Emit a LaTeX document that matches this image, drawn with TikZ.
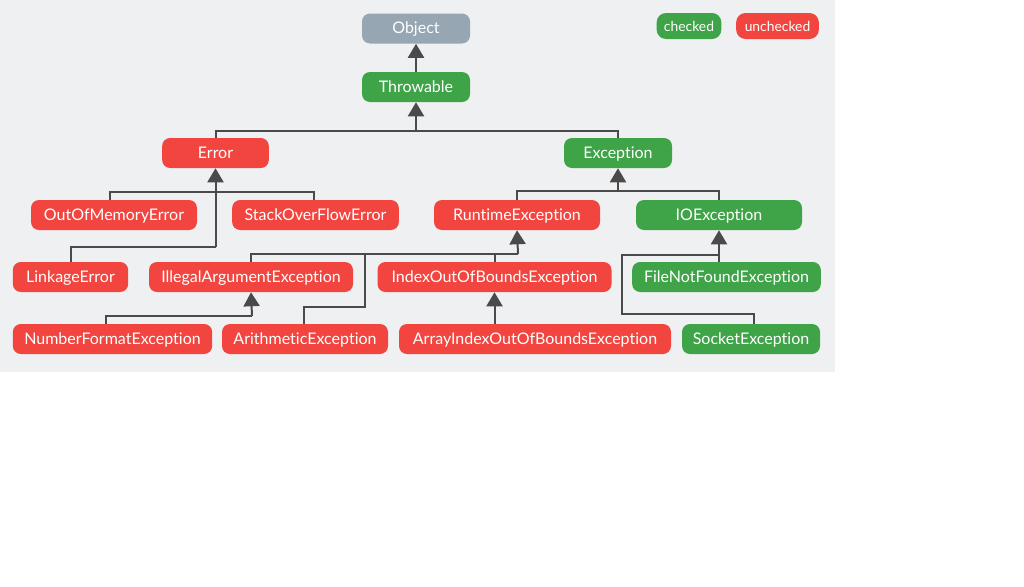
\documentclass[tikz,border=0pt]{standalone}
\usepackage{fontspec}
\setmainfont[Ligatures={NoCommon}]{Lato}
\usetikzlibrary{arrows.meta,calc}
\definecolor{bgpanel}{HTML}{EEF0F2}
\definecolor{unchk}{HTML}{F2453F}
\definecolor{chk}{HTML}{3FA348}
\definecolor{rootgrey}{HTML}{96A6B2}
\definecolor{wire}{HTML}{4A4A4A}
\begin{document}
\begin{tikzpicture}[x=0.75pt,y=-0.75pt,
  cls/.style={rounded corners=6pt,minimum height=22.5pt,inner sep=0pt,
    text height=8.8pt,text depth=1.3pt,
    text=white,font=\fontsize{12pt}{14pt}\selectfont},
  uc/.style={cls,fill=unchk},
  ck/.style={cls,fill=chk},
  rt/.style={cls,fill=rootgrey},
  legend/.style={rounded corners=7pt,minimum height=19.5pt,inner sep=0pt,
    text height=8.2pt,text depth=0pt,
    text=white,font=\fontsize{10.4pt}{12pt}\selectfont},
  conn/.style={draw=wire,line width=1.5pt},
  arr/.style={conn,-{Triangle[length=10.5pt,width=12pt]}}]
\useasboundingbox (0,0) rectangle (1024,586);
\fill[bgpanel] (0,0) rectangle (835,372);

% legend
\node[legend,fill=chk,minimum width=48.5pt] (lchk) at (689,26) {checked};
\node[legend,fill=unchk,minimum width=62pt] (lunchk) at (777.5,26) {unchecked};

% class boxes
\node[rt,minimum width=81pt]  (object)    at (416,28.5) {Object};
\node[ck,minimum width=81pt]  (throwable) at (416,87)   {Throwable};
\node[uc,minimum width=80pt]  (error)     at (215.5,153){Error};
\node[ck,minimum width=81pt]  (exception) at (618,153)  {Exception};
\node[uc,minimum width=124.5pt] (oom)     at (114,215)  {OutOfMemoryError};
\node[uc,minimum width=125pt] (soe)       at (315.5,215){StackOverFlowError};
\node[uc,minimum width=124.5pt] (runtime) at (517,215)  {RuntimeException};
\node[ck,minimum width=124.5pt] (ioex)    at (719,215)  {IOException};
\node[uc,minimum width=86.5pt] (linkage)  at (70.5,277) {LinkageError};
\node[uc,minimum width=153pt] (illegal)   at (251,277)  {IllegalArgumentException};
\node[uc,minimum width=175.5pt] (index)   at (494.5,277){IndexOutOfBoundsException};
\node[ck,minimum width=141.5pt] (fnf)     at (726.5,277){FileNotFoundException};
\node[uc,minimum width=149.5pt] (numfmt)  at (112.5,339){NumberFormatException};
\node[uc,minimum width=124.5pt] (arith)   at (305,339)  {ArithmeticException};
\node[uc,minimum width=204pt] (arrayidx)  at (535,339)  {ArrayIndexOutOfBoundsException};
\node[ck,minimum width=103.5pt] (socket)  at (751,339)  {SocketException};

% Throwable -> Object
\draw[arr] (throwable.north) -- (object.south);

% Error, Exception -> Throwable
\coordinate (tbus) at (416,131);
\draw[conn] (error.north) |- (tbus) -| (exception.north);
\draw[arr] (tbus) -- (throwable.south);

% Error subclasses
\coordinate (ebus) at (215.5,192);
\coordinate (elink) at (215.5,247);
\draw[conn] ($(oom.north)+(-4,0)$) |- (ebus) -| ($(soe.north)+(-1.5,0)$);
\draw[conn] (linkage.north) |- (elink);
\draw[arr] (elink) -- (error.south);

% Exception subclasses
\coordinate (xbus) at (618,191);
\draw[conn] (runtime.north) |- (xbus) -| (ioex.north);
\draw[arr] (xbus) -- (exception.south);

% RuntimeException subclasses
\coordinate (rbus) at (518,254);
\coordinate (arj) at (365,307);
\draw[conn] (illegal.north) |- (rbus);
\draw[conn] (index.north) -- (index.north |- rbus);
\draw[conn] ($(arith.north)+(-1,0)$) |- (arj) -- (arj |- rbus);
\draw[arr] (rbus) -- (runtime.south);

% IllegalArgumentException subclass
\coordinate (nbus) at (252,316);
\draw[conn] ($(numfmt.north)+(-6.5,0)$) |- (nbus);
\draw[arr] (nbus) -- (illegal.south);

% IndexOutOfBoundsException subclass
\draw[arr] (index.south |- arrayidx.north) -- (index.south);

% IOException subclasses
\coordinate (ibus) at (720,255);
\coordinate (sbend) at (622,314);
\draw[arr] (ioex.south |- fnf.north) -- (ioex.south);
\draw[conn] ($(socket.north)+(3,0)$) |- (sbend) |- (ibus);
\end{tikzpicture}
\end{document}
